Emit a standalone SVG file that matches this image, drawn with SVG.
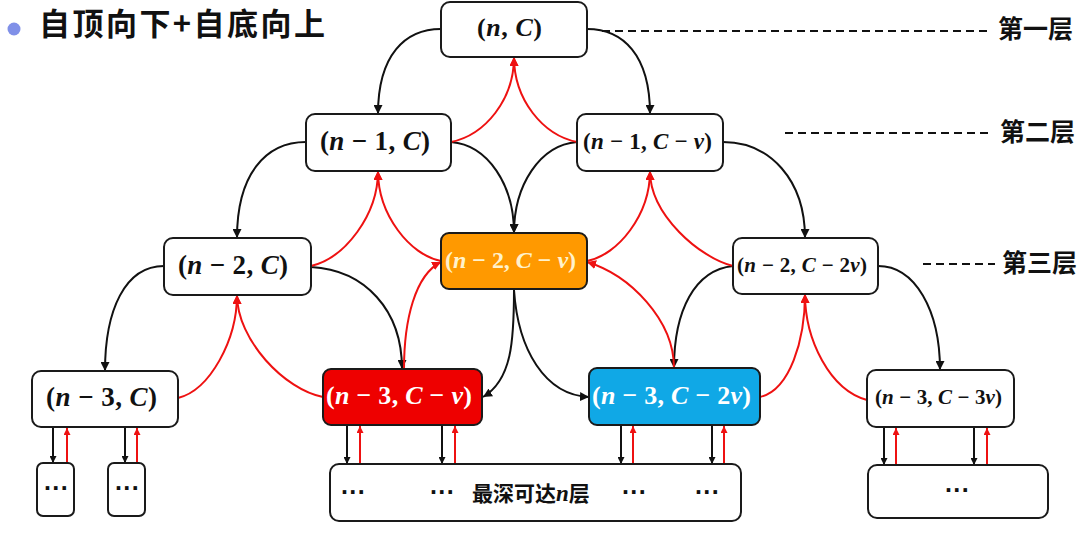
<svg xmlns="http://www.w3.org/2000/svg" width="1080" height="548" viewBox="0 0 1080 548">
<style>
.box{fill:#fff;stroke:#1a1a1a;stroke-width:2}
.m{font-family:"Liberation Serif","DejaVu Serif",serif;font-weight:bold;fill:#111}
.i{font-style:italic}
.cjk{font-family:"Noto Sans CJK SC","Noto Sans",sans-serif;font-weight:bold;fill:#111}
.dots{font-family:"Liberation Sans",Arial,sans-serif;font-weight:bold;font-size:25px;fill:#111}
.bk{fill:none;stroke:#111;stroke-width:2;marker-end:url(#ab)}
.rd{fill:none;stroke:#ee1111;stroke-width:2;marker-end:url(#ar)}
.bv{fill:none;stroke:#111;stroke-width:2;marker-end:url(#abs)}
.rv{fill:none;stroke:#ee1111;stroke-width:2;marker-end:url(#ars)}
.dash{stroke:#111;stroke-width:2.2;stroke-dasharray:8 5}
</style>
<defs>
<marker id="ab" viewBox="0 0 10 10" refX="10" refY="5" markerWidth="9" markerHeight="9" markerUnits="userSpaceOnUse" orient="auto"><path d="M0,0 L10,5 L0,10 z" fill="#111"/></marker>
<marker id="ar" viewBox="0 0 10 10" refX="10" refY="5" markerWidth="9" markerHeight="9" markerUnits="userSpaceOnUse" orient="auto"><path d="M0,0 L10,5 L0,10 z" fill="#ee1111"/></marker>
<marker id="abs" viewBox="0 0 10 10" refX="10" refY="5" markerWidth="7" markerHeight="7" markerUnits="userSpaceOnUse" orient="auto"><path d="M0,0 L10,5 L0,10 z" fill="#111"/></marker>
<marker id="ars" viewBox="0 0 10 10" refX="10" refY="5" markerWidth="7" markerHeight="7" markerUnits="userSpaceOnUse" orient="auto"><path d="M0,0 L10,5 L0,10 z" fill="#ee1111"/></marker>
</defs>
<rect width="1080" height="548" fill="#fff"/>

<g id="title">
<circle cx="14" cy="29" r="6.5" fill="#8090e8"/>
<text class="cjk" x="39" y="35" font-size="31" textLength="286">自顶向下+自底向上</text>
</g>

<g id="layers">
<line class="dash" x1="602" y1="31" x2="990" y2="31"/>
<text class="cjk" x="998" y="38" font-size="25">第一层</text>
<line class="dash" x1="785" y1="133" x2="993" y2="133"/>
<text class="cjk" x="1000" y="141" font-size="25">第二层</text>
<line class="dash" x1="923" y1="264" x2="995" y2="264"/>
<text class="cjk" x="1002" y="272" font-size="25">第三层</text>
</g>

<g id="connectors">
<!-- black top-down -->
<path class="bk" d="M441,29 C405,29 378,55 378,114"/>
<path class="bk" d="M587,29 C623,29 650,55 650,114"/>
<path class="bk" d="M306,142 C265,142 237,175 237,238"/>
<path class="bk" d="M451,142 C488,145 514,185 514,233"/>
<path class="bk" d="M577,142 C540,145 514,185 514,233"/>
<path class="bk" d="M723,142 C770,142 805,180 805,238"/>
<path class="bk" d="M164,266 C125,266 105,310 105,371"/>
<path class="bk" d="M311,267 C365,270 402,310 402,369"/>
<path class="bk" d="M514,290 C514,340 512,380 483,397"/>
<path class="bk" d="M514,290 C518,350 545,395 589,397"/>
<path class="bk" d="M733,266 C695,270 674,310 674,368"/>
<path class="bk" d="M878,266 C915,266 940,310 940,370"/>
<!-- red bottom-up -->
<path class="rd" d="M451,142 C485,135 514,100 514,57"/>
<path class="rd" d="M577,142 C543,135 514,100 514,57"/>
<path class="rd" d="M311,266 C345,258 378,215 378,171"/>
<path class="rd" d="M441,261 C410,255 378,215 378,171"/>
<path class="rd" d="M587,261 C618,255 650,215 650,171"/>
<path class="rd" d="M733,266 C700,258 650,215 650,171"/>
<path class="rd" d="M178,398 C210,390 237,340 237,295"/>
<path class="rd" d="M323,397 C285,390 237,340 237,295"/>
<path class="rd" d="M404,369 C404,320 415,275 441,262"/>
<path class="rd" d="M674,368 C674,320 630,275 587,262"/>
<path class="rd" d="M760,397 C790,390 805,340 805,294"/>
<path class="rd" d="M867,400 C830,390 805,340 805,294"/>
<!-- vertical pairs -->
<path class="bv" d="M53,428 V463"/><path class="rv" d="M67,463 V428"/>
<path class="bv" d="M125,428 V463"/><path class="rv" d="M137,463 V428"/>
<path class="bv" d="M347,426 V464"/><path class="rv" d="M360,464 V426"/>
<path class="bv" d="M442,426 V464"/><path class="rv" d="M455,464 V426"/>
<path class="bv" d="M621,426 V464"/><path class="rv" d="M633,464 V426"/>
<path class="bv" d="M712,426 V464"/><path class="rv" d="M724,464 V426"/>
<path class="bv" d="M884,428 V465"/><path class="rv" d="M896,465 V428"/>
<path class="bv" d="M974,428 V465"/><path class="rv" d="M987,465 V428"/>
</g>

<g id="n-C">
<rect class="box" x="441" y="2" width="146" height="55" rx="9"/>
<text class="m" x="477" y="36" font-size="26" textLength="65">(<tspan class="i">n</tspan>, <tspan class="i">C</tspan>)</text>
</g>
<g id="n1-C">
<rect class="box" x="306" y="114" width="145" height="57" rx="9"/>
<text class="m" x="320" y="150" font-size="27" textLength="110">(<tspan class="i">n</tspan> − 1, <tspan class="i">C</tspan>)</text>
</g>
<g id="n1-Cv">
<rect class="box" x="577" y="114" width="146" height="57" rx="9"/>
<text class="m" x="583" y="148.5" font-size="23" textLength="129">(<tspan class="i">n</tspan> − 1, <tspan class="i">C</tspan> − <tspan class="i">v</tspan>)</text>
</g>
<g id="n2-C">
<rect class="box" x="164" y="238" width="147" height="57" rx="9"/>
<text class="m" x="178" y="274" font-size="27" textLength="110">(<tspan class="i">n</tspan> − 2, <tspan class="i">C</tspan>)</text>
</g>
<g id="n2-Cv">
<rect x="441" y="233" width="146" height="56" rx="8" fill="#ff9900" stroke="#1a1a1a" stroke-width="2"/>
<text class="m" x="445" y="267.5" font-size="24" textLength="131" style="fill:#fff2cc">(<tspan class="i">n</tspan> − 2, <tspan class="i">C</tspan> − <tspan class="i">v</tspan>)</text>
</g>
<g id="n2-C2v">
<rect class="box" x="733" y="238" width="145" height="56" rx="9"/>
<text class="m" x="737" y="271.5" font-size="21" textLength="130">(<tspan class="i">n</tspan> − 2, <tspan class="i">C</tspan> − 2<tspan class="i">v</tspan>)</text>
</g>
<g id="n3-C">
<rect class="box" x="32" y="371" width="146" height="56" rx="9"/>
<text class="m" x="46" y="406" font-size="27" textLength="111">(<tspan class="i">n</tspan> − 3, <tspan class="i">C</tspan>)</text>
</g>
<g id="n3-Cv">
<rect x="323" y="369" width="159" height="56" rx="8" fill="#ee0000" stroke="#1a1a1a" stroke-width="2"/>
<text class="m" x="326" y="404" font-size="26" textLength="146" style="fill:#fff">(<tspan class="i">n</tspan> − 3, <tspan class="i">C</tspan> − <tspan class="i">v</tspan>)</text>
</g>
<g id="n3-C2v">
<rect x="589" y="368" width="171" height="57" rx="8" fill="#10a8e6" stroke="#1a1a1a" stroke-width="2"/>
<text class="m" x="592" y="404" font-size="26" textLength="159" style="fill:#fff">(<tspan class="i">n</tspan> − 3, <tspan class="i">C</tspan> − 2<tspan class="i">v</tspan>)</text>
</g>
<g id="n3-C3v">
<rect class="box" x="867" y="370" width="147" height="57" rx="9"/>
<text class="m" x="875" y="404" font-size="21" textLength="127">(<tspan class="i">n</tspan> − 3, <tspan class="i">C</tspan> − 3<tspan class="i">v</tspan>)</text>
</g>

<g id="leaf1">
<rect class="box" x="37" y="463" width="37" height="53" rx="6"/>
<text class="dots" x="44" y="497">···</text>
</g>
<g id="leaf2">
<rect class="box" x="108" y="463" width="37" height="53" rx="6"/>
<text class="dots" x="115" y="497">···</text>
</g>
<g id="deepest">
<rect class="box" x="330" y="464" width="411" height="57" rx="9"/>
<text class="dots" x="341" y="501">···</text>
<text class="dots" x="430" y="501">···</text>
<text class="cjk" x="472" y="501" font-size="21">最深可达<tspan class="m i" style="font-size:23px">n</tspan>层</text>
<text class="dots" x="622" y="501">···</text>
<text class="dots" x="695" y="501">···</text>
</g>
<g id="leaf-right">
<rect class="box" x="868" y="465" width="180" height="53" rx="9"/>
<text class="dots" x="945" y="499">···</text>
</g>
</svg>
